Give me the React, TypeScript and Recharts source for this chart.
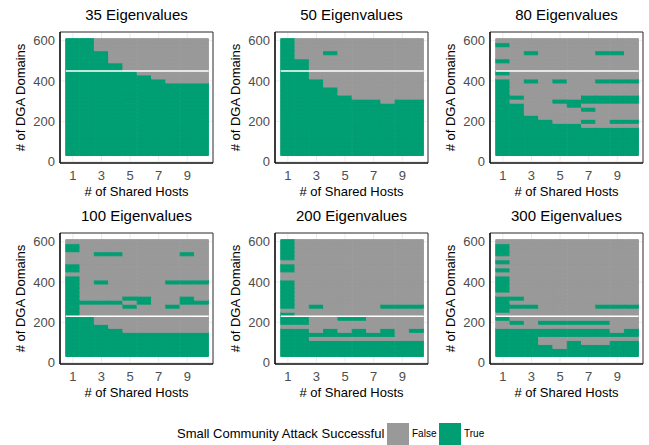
import { BarChart, Bar, Cell, XAxis, YAxis, CartesianGrid, ReferenceLine, ReferenceArea } from 'recharts';

const TRUE_COLOR = '#009E73';
const FALSE_COLOR = '#999999';

const hosts = [1, 2, 3, 4, 5, 6, 7, 8, 9, 10];
// DGA domain counts, top row first
const domainCounts = [
  600, 580, 560, 540, 520, 500, 480, 460, 440, 420, 400, 380, 360, 340, 320,
  300, 280, 260, 240, 220, 200, 180, 160, 140, 120, 100, 80, 60, 40,
];
const xTicks = [1, 3, 5, 7, 9];
const yTicks = [0, 200, 400, 600];
const legendLabels = ['False', 'True'];

// '#' = attack successful, '.' = not. one string per domain count, one char per host
const grid35 = [
  '##........', '##........', '##........', '###.......', '###.......',
  '###.......', '####......', '####......', '#####.....', '######....',
  '#######...', '##########', '##########', '##########', '##########',
  '##########', '##########', '##########', '##########', '##########',
  '##########', '##########', '##########', '##########', '##########',
  '##########', '##########', '##########', '##########',
];
const grid50 = [
  '#.........', '#.........', '#.........', '#..#......', '#.........',
  '##........', '##........', '##........', '##........', '##........',
  '###.......', '###.......', '####......', '####......', '#####.....',
  '#######.##', '##########', '##########', '##########', '##########',
  '##########', '##########', '##########', '##########', '##########',
  '##########', '##########', '##########', '##########',
];
const grid80 = [
  '..........', '#.........', '..........', '..#....##.', '..........',
  '#.........', '..........', '..........', '#.........', '..........',
  '#.#.#..###', '#.........', '#.........', '#.........', '##....####',
  '#...######', '##...#....', '##....#...', '##........', '###.......',
  '####..#.##', '######....', '##########', '##########', '##########',
  '##########', '##########', '##########', '##########',
];
const grid100 = [
  '..........', '#.........', '#.........', '..##....#.', '..........',
  '..........', '#.........', '#.........', '..........', '#.........',
  '#.#....###', '#.........', '#.........', '#.........', '#...##..#.',
  '####.#..##', '#...#..#..', '#.........', '#.........', '##........',
  '##........', '###.......', '####......', '##########', '##########',
  '##########', '##########', '##########', '##########',
];
const grid200 = [
  '#.........', '#.........', '#.........', '#.........', '#.........',
  '..........', '#.........', '#.........', '..........', '..........',
  '#.........', '#.........', '#.........', '#.........', '#.........',
  '#.........', '#.#....###', '..........', '#.........', '##..##....',
  '##........', '..........', '##.#.#.#.#', '########..', '##........',
  '##########', '##########', '##########', '##########',
];
const grid300 = [
  '..........', '#.........', '#.........', '#.........', '..........',
  '#.........', '..........', '#.........', '..........', '#.........',
  '#.........', '#.........', '#.........', '..........', '##........',
  '#.........', '###....###', '#.........', '..........', '#.........',
  '.#.#####..', '..........', '########.#', '##########', '###.......',
  '###..#..##', '####.#####', '##########', '##########',
];

const panelTitles = ['35 Eigenvalues', '50 Eigenvalues', '80 Eigenvalues', '100 Eigenvalues', '200 Eigenvalues', '300 Eigenvalues'];
const panelGrids = [grid35, grid50, grid80, grid100, grid200, grid300];
const panelCutoffs = [450, 450, 450, 230, 230, 230];

const step = domainCounts[0] - domainCounts[1];
const lowest = domainCounts[domainCounts.length - 1];
const X_DOMAIN = [0.1, 10.8];
const Y_DOMAIN = [-7, 643];

// stacked tiles: transparent base, then one segment per domain count (bottom up)
const bottomUp = [...domainCounts].reverse();
const tileData = hosts.map((h) => {
  const row: Record<string, number> = { host: h, base: lowest - step / 2 };
  domainCounts.forEach((d) => {
    row[`d${d}`] = step;
  });
  return row;
});

const PANEL_W = 215;
const PANEL_H = 200;

function Panel({ title, grid, cutoff, left, top }: { title: string; grid: string[]; cutoff: number; left: number; top: number }) {
  return (
    <div style={{ position: 'absolute', left, top, width: PANEL_W, height: PANEL_H }}>
      <div style={{ position: 'absolute', left: 60, top: 5, width: 153, textAlign: 'center', fontSize: 15, lineHeight: '20px', color: '#000' }}>
        {title}
      </div>
      <BarChart
        width={PANEL_W}
        height={PANEL_H}
        data={tileData}
        margin={{ top: 32, right: 2, bottom: 0, left: 0 }}
        barCategoryGap={0}
        barGap={0}
      >
        <CartesianGrid stroke="#ebebeb" strokeWidth={1} />
        <XAxis
          dataKey="host"
          type="number"
          domain={X_DOMAIN}
          ticks={xTicks}
          allowDataOverflow
          height={37}
          tickLine={false}
          tickSize={0}
          tickMargin={8}
          axisLine={{ stroke: '#000', strokeWidth: 1.2 }}
          tick={{ fill: '#4d4d4d', fontSize: 13 }}
          label={(p: any) => (
            <text x={p.viewBox.x + p.viewBox.width / 2} y={p.viewBox.y + 33} textAnchor="middle" fontSize={13} fill="#000">
              # of Shared Hosts
            </text>
          )}
        />
        <YAxis
          type="number"
          domain={Y_DOMAIN}
          ticks={yTicks}
          allowDataOverflow
          width={60}
          tickLine={false}
          tickSize={0}
          tickMargin={5}
          axisLine={{ stroke: '#000', strokeWidth: 1.2 }}
          tick={{ fill: '#4d4d4d', fontSize: 13 }}
          label={(p: any) => {
            const cx = p.viewBox.x + 20;
            const cy = p.viewBox.y + p.viewBox.height / 2;
            return (
              <text x={cx} y={cy} transform={`rotate(-90 ${cx} ${cy})`} textAnchor="middle" dominantBaseline="central" fontSize={13} fill="#000">
                # of DGA Domains
              </text>
            );
          }}
        />
        <Bar dataKey="base" stackId="t" fill="none" isAnimationActive={false} />
        {bottomUp.map((d) => {
          const r = domainCounts.indexOf(d);
          return (
            <Bar key={d} dataKey={`d${d}`} stackId="t" isAnimationActive={false}>
              {hosts.map((h, c) => {
                const color = grid[r][c] === '#' ? TRUE_COLOR : FALSE_COLOR;
                return <Cell key={h} fill={color} stroke={color} strokeWidth={1} />;
              })}
            </Bar>
          );
        })}
        <ReferenceLine
          segment={[
            { x: hosts[0] - 0.5, y: cutoff },
            { x: hosts[hosts.length - 1] + 0.5, y: cutoff },
          ]}
          stroke="#ffffff"
          strokeWidth={1.5}
        />
        <ReferenceArea x1={X_DOMAIN[0]} x2={X_DOMAIN[1]} y1={Y_DOMAIN[0]} y2={Y_DOMAIN[1]} fill="none" stroke="#333" strokeWidth={1} />
      </BarChart>
    </div>
  );
}

export default function App() {
  return (
    <div
      style={{
        position: 'absolute',
        left: 0,
        top: 0,
        width: 649,
        height: 445,
        overflow: 'hidden',
        background: '#fff',
        fontFamily: '"Liberation Sans", Arial, sans-serif',
      }}
    >
      {panelTitles.map((t, i) => (
        <Panel
          key={t}
          title={t}
          grid={panelGrids[i]}
          cutoff={panelCutoffs[i]}
          left={(i % 3) * PANEL_W}
          top={Math.floor(i / 3) * 201}
        />
      ))}
      <div style={{ position: 'absolute', left: 177, top: 427, fontSize: 13, lineHeight: '13px', color: '#000', whiteSpace: 'nowrap' }}>
        Small Community Attack Successful
      </div>
      <div style={{ position: 'absolute', left: 387, top: 423, width: 22, height: 22, background: FALSE_COLOR }} />
      <div style={{ position: 'absolute', left: 412, top: 429, fontSize: 10, lineHeight: '10px', color: '#000' }}>{legendLabels[0]}</div>
      <div style={{ position: 'absolute', left: 439, top: 423, width: 22, height: 22, background: TRUE_COLOR }} />
      <div style={{ position: 'absolute', left: 464, top: 429, fontSize: 10, lineHeight: '10px', color: '#000' }}>{legendLabels[1]}</div>
    </div>
  );
}
